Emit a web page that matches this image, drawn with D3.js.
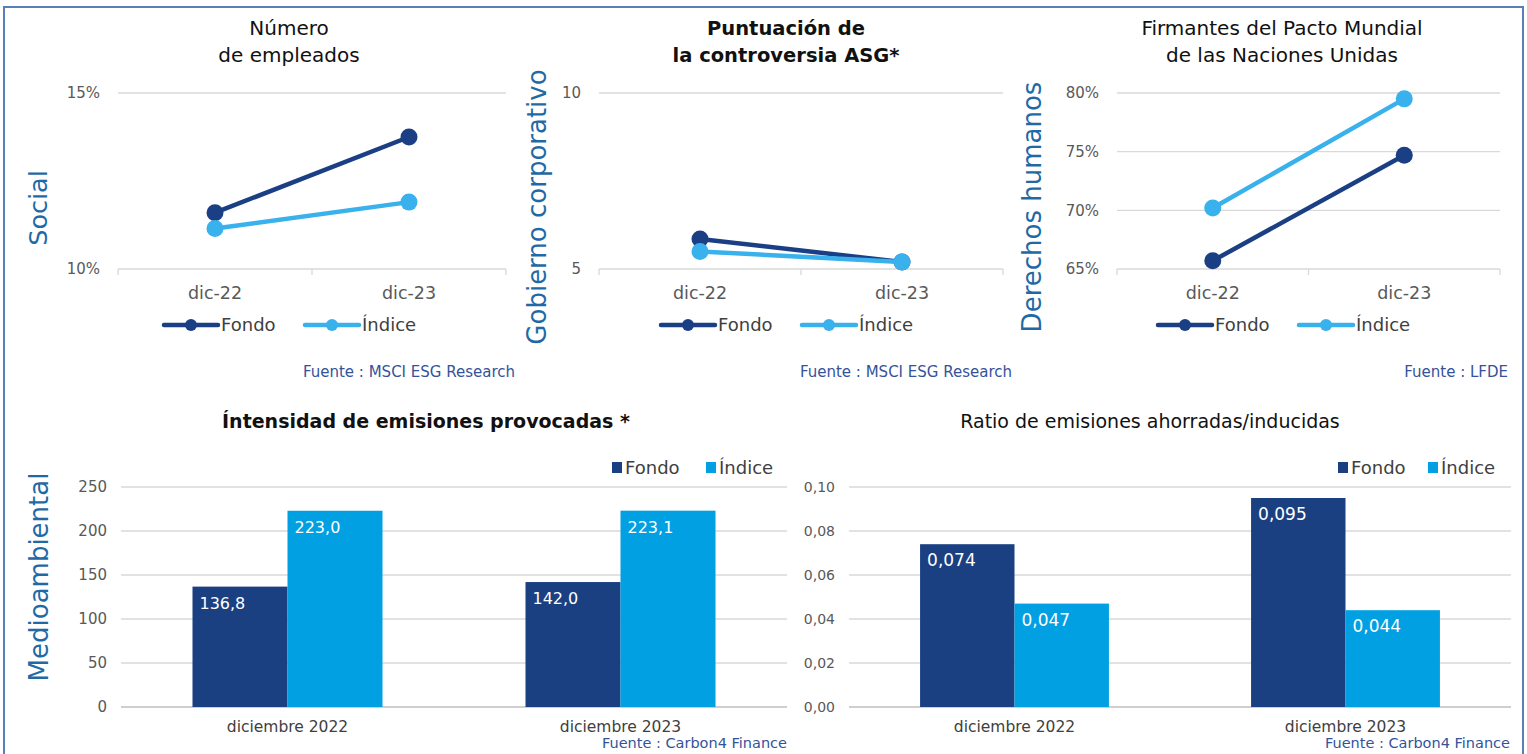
<!DOCTYPE html>
<html><head><meta charset="utf-8">
<script src="https://cdn.jsdelivr.net/npm/d3@7"></script>
<style>
html,body{margin:0;padding:0;background:#fff;overflow:hidden}
svg text{font-family:"DejaVu Sans","Noto Sans",sans-serif}
</style></head>
<body><svg id="c" width="1527" height="754"></svg>
<script>
// ---- data ----
const lineCats = ["dic-22", "dic-23"];
const empFondo = [11.6, 13.75];
const empIndice = [11.15, 11.9];
const asgFondo = [5.85, 5.2];
const asgIndice = [5.5, 5.2];
const pactoFondo = [65.7, 74.7];
const pactoIndice = [70.2, 79.5];
const empTicks = [10, 15];
const asgTicks = [5, 10];
const pactoTicks = [65, 70, 75, 80];

const barCats = ["diciembre 2022", "diciembre 2023"];
const intensFondo = [136.8, 142.0];
const intensIndice = [223.0, 223.1];
const intensTicks = [0, 50, 100, 150, 200, 250];
const ratioFondo = [0.074, 0.095];
const ratioIndice = [0.047, 0.044];
const ratioTicks = [0, 0.02, 0.04, 0.06, 0.08, 0.10];
const seriesNames = ["Fondo", "Índice"];

// ---- styles ----
const cFondoLine = "#1b3f84", cIndiceLine = "#38b1ec";
const cFondoBar = "#1a4082", cIndiceBar = "#00a0e3";
const cAxisTitle = "#1f6aa6", cTick = "#595959", cGrid = "#d9d9d9", cSource = "#34539a";

const svg = d3.select("#c");

// frame
svg.append("path").attr("d","M4,754 L4,7 L1523,7 L1523,754").attr("fill","none")
  .attr("stroke","#5a7fb8").attr("stroke-width",2);

function lineChart(o){
  const x = d3.scaleBand().domain(lineCats).range([o.x0, o.x1]);
  const y = d3.scaleLinear().domain(o.dom).range([269, 93]);
  const g = svg.append("g");
  g.selectAll(".gl").data(o.ticks).join("line")
    .attr("x1", o.x0).attr("x2", o.x1).attr("y1", d=>y(d)).attr("y2", d=>y(d))
    .attr("stroke", cGrid).attr("stroke-width", 1.3);
  const ax = g.append("g").attr("transform", `translate(0,${y(o.dom[0])})`)
    .call(d3.axisBottom(x).tickSize(0));
  ax.select(".domain").remove();
  ax.selectAll("text").attr("font-size", 17.5).attr("fill", cTick).attr("y",30).attr("dy",0);
  const bounds = [o.x0, (o.x0+o.x1)/2, o.x1];
  g.selectAll(".tk").data(bounds).join("line")
    .attr("x1", d=>d).attr("x2", d=>d).attr("y1", y(o.dom[0])).attr("y2", y(o.dom[0])+6)
    .attr("stroke", cGrid).attr("stroke-width", 1.3);
  g.selectAll(".yl").data(o.ticks).join("text")
    .attr("x", o.x0 - 18).attr("y", d=>y(d)).attr("dy","0.35em").attr("text-anchor","end")
    .attr("font-size", 15).attr("fill", cTick).text(o.fmt);
  const series = [{v:o.fondo, c:cFondoLine},{v:o.indice, c:cIndiceLine}];
  const lg = d3.line().x((d,i)=>x(lineCats[i]) + x.bandwidth()/2).y(d=>y(d));
  series.forEach(s=>{
    g.append("path").attr("d", lg(s.v)).attr("fill","none").attr("stroke", s.c).attr("stroke-width", 4.5);
    g.selectAll(null).data(s.v).join("circle")
      .attr("cx",(d,i)=>x(lineCats[i]) + x.bandwidth()/2).attr("cy", d=>y(d)).attr("r", 8.5).attr("fill", s.c);
  });
  const t = g.append("text").attr("x", o.tx).attr("text-anchor","middle").attr("font-size", o.bold?19.5:20)
    .attr("fill","#111").attr("font-weight", o.bold ? "bold" : "normal");
  o.title.forEach((l,i)=> t.append("tspan").attr("x", o.tx).attr("y", 35 + i*26.5).text(l));
  g.append("text").attr("transform", `translate(${o.ax},${o.ay}) rotate(-90)`).attr("text-anchor","middle")
    .attr("font-size", o.afs).attr("fill", cAxisTitle).text(o.atitle);
  series.forEach((s,i)=>{
    const lx = o.lx + i*141;
    g.append("line").attr("x1", lx).attr("x2", lx+54).attr("y1",325).attr("y2",325)
      .attr("stroke", s.c).attr("stroke-width", 4.5).attr("stroke-linecap","round");
    g.append("circle").attr("cx", lx+27).attr("cy",325).attr("r",6).attr("fill", s.c);
    g.append("text").attr("x", lx+57).attr("y",325).attr("dy","0.36em").attr("font-size",18)
      .attr("fill","#404040").text(seriesNames[i]);
  });
  g.append("text").attr("x", o.sx).attr("y", 377).attr("text-anchor","end").attr("font-size",15)
    .attr("fill", cSource).text(o.source);
}

lineChart({x0:118, x1:506, dom:[10,15], ticks:empTicks, fmt:d=>d+"%", fondo:empFondo, indice:empIndice,
  title:["Número","de empleados"], tx:289, bold:false, atitle:"Social", ax:47, ay:208, afs:25.5,
  lx:164, sx:515, source:"Fuente : MSCI ESG Research"});
lineChart({x0:599, x1:1003, dom:[5,10], ticks:asgTicks, fmt:d=>d, fondo:asgFondo, indice:asgIndice,
  title:["Puntuación de","la controversia ASG*"], tx:786, bold:true, atitle:"Gobierno corporativo", ax:546, ay:207, afs:26,
  lx:661, sx:1012, source:"Fuente : MSCI ESG Research"});
lineChart({x0:1117, x1:1500, dom:[65,80], ticks:pactoTicks, fmt:d=>d+"%", fondo:pactoFondo, indice:pactoIndice,
  title:["Firmantes del Pacto Mundial","de las Naciones Unidas"], tx:1282, bold:false, atitle:"Derechos humanos", ax:1041, ay:207, afs:26,
  lx:1158, sx:1508, source:"Fuente : LFDE"});

function barChart(o){
  const x0 = d3.scaleBand().domain(barCats).range([o.x0, o.x1]);
  const bw = x0.bandwidth();
  const x1 = d3.scaleBand().domain(seriesNames).range([bw*0.2147, bw*0.7853]);
  const y = d3.scaleLinear().domain(o.dom).range([707, 487]);
  const g = svg.append("g");
  g.selectAll(".gl").data(o.ticks).join("line")
    .attr("x1", o.x0).attr("x2", o.x1).attr("y1", d=>y(d)).attr("y2", d=>y(d))
    .attr("stroke", d=>d===0 ? "#cfcfcf" : cGrid).attr("stroke-width", d=>d===0?2:1.3);
  g.selectAll(".yl").data(o.ticks).join("text")
    .attr("x", o.x0 - 14).attr("y", d=>y(d)).attr("dy","0.35em").attr("text-anchor","end")
    .attr("font-size", o.tfs).attr("fill", cTick).text(o.fmt);
  const ax = g.append("g").attr("transform","translate(0,707)").call(d3.axisBottom(x0).tickSize(0));
  ax.select(".domain").remove();
  ax.selectAll("text").attr("font-size", 15.5).attr("fill","#404040").attr("y",25).attr("dy",0);
  const data = [];
  barCats.forEach((c,i)=>{ data.push({c, s:"Fondo", v:o.fondo[i], col:cFondoBar});
    data.push({c, s:"Índice", v:o.indice[i], col:cIndiceBar}); });
  g.selectAll("rect.b").data(data).join("rect").attr("class","b")
    .attr("x", d=>x0(d.c)+x1(d.s)).attr("width", x1.bandwidth())
    .attr("y", d=>y(d.v)).attr("height", d=>y(0)-y(d.v)).attr("fill", d=>d.col);
  g.selectAll("text.v").data(data).join("text").attr("class","v")
    .attr("x", d=>x0(d.c)+x1(d.s)+7).attr("y", d=>y(d.v)+22)
    .attr("font-size",o.lfs).attr("fill","#fff").text(d=>o.lfmt(d.v));
  g.append("text").attr("x", o.tx).attr("y", 428).attr("text-anchor","middle").attr("font-size",19)
    .attr("font-weight", o.bold?"bold":"normal").attr("fill","#111").text(o.title);
  [cFondoBar, cIndiceBar].forEach((col,i)=>{
    const lx = o.lx + (i? o.lgap:0);
    g.append("rect").attr("x", lx).attr("y", 462).attr("width",10).attr("height",11).attr("fill", col);
    g.append("text").attr("x", lx+13).attr("y", 468).attr("dy","0.36em").attr("font-size",18)
      .attr("fill","#404040").text(seriesNames[i]);
  });
  if (o.atitle) g.append("text").attr("transform", `translate(${o.ax},${o.ay}) rotate(-90)`).attr("text-anchor","middle")
    .attr("font-size", 26).attr("fill", cAxisTitle).text(o.atitle);
  g.append("text").attr("x", o.sx).attr("y", 748).attr("text-anchor","end").attr("font-size",14.5)
    .attr("fill", cSource).text("Fuente : Carbon4 Finance");
}

barChart({x0:121, x1:787, dom:[0,250], ticks:intensTicks, fmt:d=>d, fondo:intensFondo, indice:intensIndice,
  lfmt:v=>v.toFixed(1).replace(".",","), title:"Íntensidad de emisiones provocadas *", tx:426, bold:true,
  lx:612, lgap:94, atitle:"Medioambiental", ax:48, ay:577, sx:787, tfs:15, lfs:16});
barChart({x0:849, x1:1511, dom:[0,0.10], ticks:ratioTicks, fmt:d=>d.toFixed(2).replace(".",","), fondo:ratioFondo, indice:ratioIndice,
  lfmt:v=>v.toFixed(3).replace(".",","), title:"Ratio de emisiones ahorradas/inducidas", tx:1150, bold:false,
  lx:1338, lgap:90, atitle:null, sx:1510, tfs:14, lfs:17});
</script></body></html>
